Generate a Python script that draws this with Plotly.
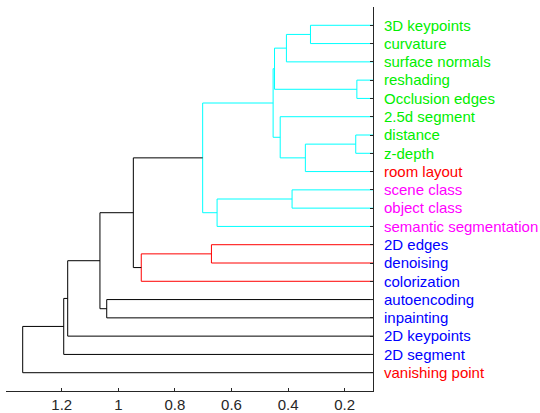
import plotly.graph_objects as go

# Leaf labels, top to bottom
leaf_labels = [
    "3D keypoints", "curvature", "surface normals", "reshading", "Occlusion edges",
    "2.5d segment", "distance", "z-depth", "room layout", "scene class",
    "object class", "semantic segmentation", "2D edges", "denoising", "colorization",
    "autoencoding", "inpainting", "2D keypoints", "2D segment", "vanishing point",
]
leaf_label_colors = [
    "#00ee00", "#00ee00", "#00ee00", "#00ee00", "#00ee00",
    "#00ee00", "#00ee00", "#00ee00", "#ff0000", "#ff00ff",
    "#ff00ff", "#ff00ff", "#0000ff", "#0000ff", "#0000ff",
    "#0000ff", "#0000ff", "#0000ff", "#0000ff", "#ff0000",
]

# Linkage: (left child, right child, height); new cluster ids start at 20
merge_left = [0, 20, 3, 21, 6, 24, 5, 23, 9, 28, 27, 12, 31, 30, 15, 33, 35, 36, 37]
merge_right = [1, 2, 4, 22, 7, 8, 25, 26, 10, 11, 29, 13, 14, 32, 16, 34, 17, 18, 19]
merge_height = [0.321, 0.406, 0.157, 0.448, 0.161, 0.339, 0.428, 0.453, 0.386, 0.651,
                0.702, 0.671, 0.919, 0.947, 1.041, 1.065, 1.179, 1.193, 1.338]

x_ticks = [0.2, 0.4, 0.6, 0.8, 1.0, 1.2]
x_tick_labels = ["0.2", "0.4", "0.6", "0.8", "1", "1.2"]

n = len(leaf_labels)
threshold = 0.7 * max(merge_height)
group_palette = ["#00ffff", "#ff0000"]

# node positions
ypos = {i: float(n - i) for i in range(n)}
hgt = {i: 0.0 for i in range(n)}
for k, (a, b, h) in enumerate(zip(merge_left, merge_right, merge_height)):
    cid = n + k
    ypos[cid] = (ypos[a] + ypos[b]) / 2
    hgt[cid] = h

parent = {}
for k, (a, b) in enumerate(zip(merge_left, merge_right)):
    parent[a] = n + k
    parent[b] = n + k

def root_group(cid):
    while cid in parent and hgt[parent[cid]] < threshold:
        cid = parent[cid]
    return cid

group_roots = []
for k, h in enumerate(merge_height):
    cid = n + k
    if h < threshold:
        r = root_group(cid)
        if r not in group_roots:
            group_roots.append(r)
group_roots.sort(key=lambda c: -ypos[c])
root_color = {r: group_palette[i % len(group_palette)] for i, r in enumerate(group_roots)}

segs = {}
for k, (a, b, h) in enumerate(zip(merge_left, merge_right, merge_height)):
    cid = n + k
    col = root_color[root_group(cid)] if h < threshold else "#000000"
    xs, ys = segs.setdefault(col, ([], []))
    xs += [hgt[a], h, h, hgt[b], None]
    ys += [ypos[a], ypos[a], ypos[b], ypos[b], None]

fig = go.Figure()
for col, (xs, ys) in segs.items():
    fig.add_trace(go.Scatter(x=xs, y=ys, mode="lines",
                             line=dict(color=col, width=1), hoverinfo="skip",
                             showlegend=False))

fig.update_layout(
    width=540, height=413,
    margin=dict(l=6, r=167, t=7, b=22, autoexpand=False),
    plot_bgcolor="white", paper_bgcolor="white",
    font=dict(family="Liberation Sans, Arial, sans-serif", size=15, color="#262626"),
    showlegend=False,
)
fig.update_xaxes(
    range=[1.397, 0.1], tickvals=x_ticks, ticktext=x_tick_labels,
    showgrid=False, zeroline=False, showline=True, linecolor="#262626", linewidth=1,
    ticks="inside", ticklen=3, tickcolor="#262626", automargin=False,
    tickfont=dict(size=15),
)
fig.update_yaxes(
    range=[0, 21], side="right",
    tickvals=[ypos[i] for i in range(n)],
    ticktext=[f"<span style='color:{c}'>{t}</span>" for t, c in zip(leaf_labels, leaf_label_colors)],
    showgrid=False, zeroline=False, showline=True, linecolor="#262626", linewidth=1,
    ticks="inside", ticklen=3, tickcolor="#262626", automargin=False,
    tickfont=dict(size=15), ticklabelstandoff=7,
)
fig.write_html(
    "out.html",
    config={"displayModeBar": False},
    post_script="document.body.style.margin='0';document.body.style.overflow='hidden';",
)
